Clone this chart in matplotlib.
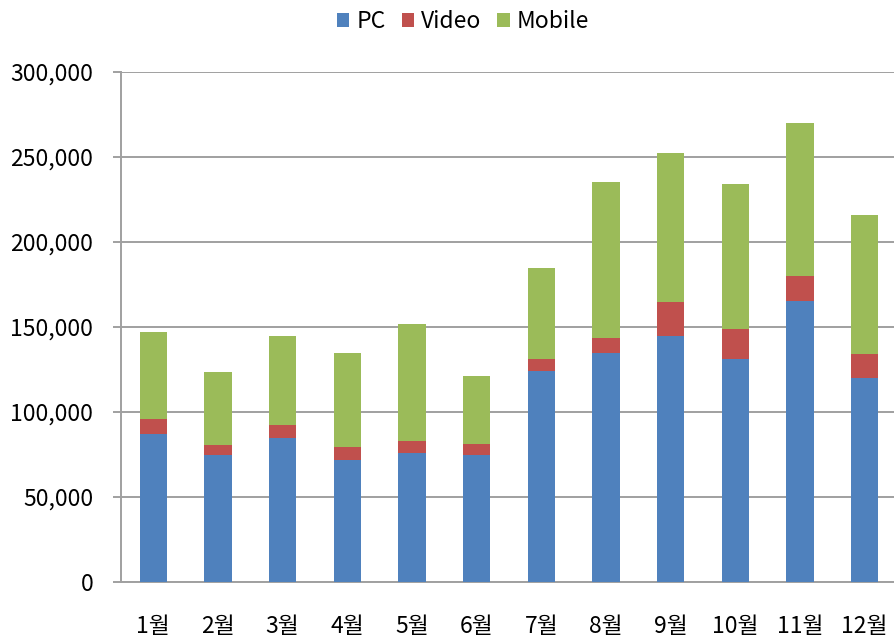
import matplotlib
matplotlib.use('Agg')
import matplotlib.pyplot as plt
import numpy as np

months = ["1월", "2월", "3월", "4월", "5월", "6월", "7월", "8월", "9월", "10월", "11월", "12월"]
pc = [87000, 75000, 85000, 72000, 76000, 74500, 124000, 135000, 145000, 131000, 165500, 120000]
video = [9000, 5500, 7500, 7500, 7000, 6500, 7000, 8500, 19500, 18000, 14500, 14000]
mobile = [51000, 43000, 52500, 55500, 69000, 40000, 54000, 92000, 88000, 85000, 90000, 82000]

plt.rcParams['font.family'] = ['Noto Sans CJK KR', 'DejaVu Sans']

fig = plt.figure(figsize=(8.94, 6.37), dpi=100)
ax = fig.add_axes([121 / 894, 55 / 637, (897 - 121) / 894, 510 / 637])

x = np.arange(len(months))
pc = np.array(pc)
video = np.array(video)
mobile = np.array(mobile)
w = 0.42

ax.bar(x, pc, w, color='#4F81BD', label='PC', zorder=3)
ax.bar(x, video, w, bottom=pc, color='#C0504D', label='Video', zorder=3)
ax.bar(x, mobile, w, bottom=pc + video, color='#9BBB59', label='Mobile', zorder=3)

ax.set_xlim(-0.5, 11.5)
ax.set_ylim(0, 300000)
ax.set_yticks(np.arange(0, 300001, 50000))
ax.yaxis.set_major_formatter(matplotlib.ticker.FuncFormatter(lambda v, p: format(int(v), ',')))
ax.set_xticks(x)
ax.set_xticklabels(months)

ax.grid(axis='y', color='#a0a0a0', linewidth=1.4, zorder=0)
for s in ['top', 'right']:
    ax.spines[s].set_visible(False)
for s in ['left', 'bottom']:
    ax.spines[s].set_color('#a0a0a0')
    ax.spines[s].set_linewidth(1.4)
ax.tick_params(axis='y', length=6, color='#a0a0a0', width=1.4, labelsize=16.5, pad=14)
ax.tick_params(axis='x', length=0, labelsize=16.5, pad=24)

fig.legend(loc='center', bbox_to_anchor=(463 / 894, 1 - 22 / 637), ncol=3, frameon=False,
           fontsize=16.5, handlelength=0.55, handleheight=0.55, handletextpad=0.3, columnspacing=0.7)

plt.savefig('out.png', dpi=100)
